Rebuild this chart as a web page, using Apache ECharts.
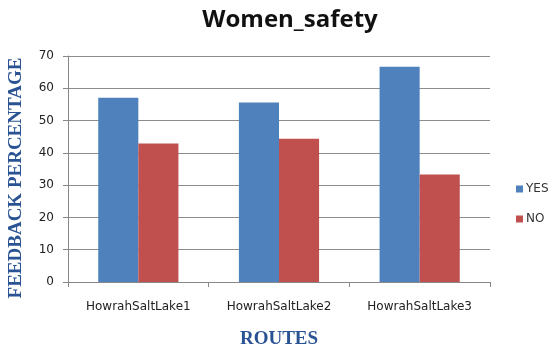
<!DOCTYPE html>
<html>
<head>
<meta charset="utf-8">
<script src="https://cdn.jsdelivr.net/npm/echarts@6/dist/echarts.min.js"></script>
<style>html,body{margin:0;padding:0;background:#fff}#c{width:550px;height:348px}</style>
</head>
<body>
<div id="c"></div>
<script>
const categories = ['HowrahSaltLake1', 'HowrahSaltLake2', 'HowrahSaltLake3'];
const yesValues = [57.1, 55.6, 66.7];
const noValues = [42.9, 44.4, 33.3];
const yTicks = [0, 10, 20, 30, 40, 50, 60, 70];

const chart = echarts.init(document.getElementById('c'));
chart.setOption({
  animation: false,
  backgroundColor: '#fff',
  title: {
    text: 'Women_safety',
    left: 285, top: 3, textAlign: 'center',
    textStyle: { fontFamily: 'Open Sans', fontWeight: 'bold', fontSize: 24, color: '#111' }
  },
  legend: {
    orient: 'vertical', left: 511, top: 178, itemGap: 18,
    itemWidth: 7, itemHeight: 7, icon: 'rect',
    textStyle: { fontFamily: 'DejaVu Sans', fontSize: 12, color: '#333', padding: [0, 0, 0, -2] },
    data: ['YES', 'NO']
  },
  grid: { left: 68, right: 60, top: 56, bottom: 66, containLabel: false, outerBoundsMode: 'none' },
  xAxis: {
    type: 'category', data: categories,
    axisLine: { lineStyle: { color: '#888' } },
    axisTick: { show: true, length: 5, lineStyle: { color: '#888' } },
    axisLabel: { fontFamily: 'DejaVu Sans', fontSize: 12, color: '#222', margin: 19 },
    name: 'ROUTES', nameLocation: 'middle', nameGap: 48,
    nameTextStyle: { fontFamily: 'Liberation Serif', fontWeight: 'bold', fontSize: 19, color: '#2A5393' }
  },
  yAxis: {
    type: 'value', min: yTicks[0], max: yTicks[yTicks.length - 1], interval: 10,
    axisLine: { show: true, lineStyle: { color: '#888' } },
    axisTick: { show: true, length: 5, lineStyle: { color: '#888' } },
    splitLine: { lineStyle: { color: '#8c8c8c', width: 1 } },
    axisLabel: { fontFamily: 'DejaVu Sans', fontSize: 12, color: '#222', margin: 14 },
    name: 'FEEDBACK PERCENTAGE', nameLocation: 'middle', nameGap: 42, nameRotate: 90,
    nameTextStyle: { fontFamily: 'Liberation Serif', fontWeight: 'bold', fontSize: 19, color: '#2A5393', padding: [0, 18, 0, 0] }
  },
  series: [
    { name: 'YES', type: 'bar', data: yesValues, barGap: '0%', barCategoryGap: '43%',
      itemStyle: { color: '#4F81BD' } },
    { name: 'NO', type: 'bar', data: noValues,
      itemStyle: { color: '#C0504D' } }
  ]
});
</script>
</body>
</html>
